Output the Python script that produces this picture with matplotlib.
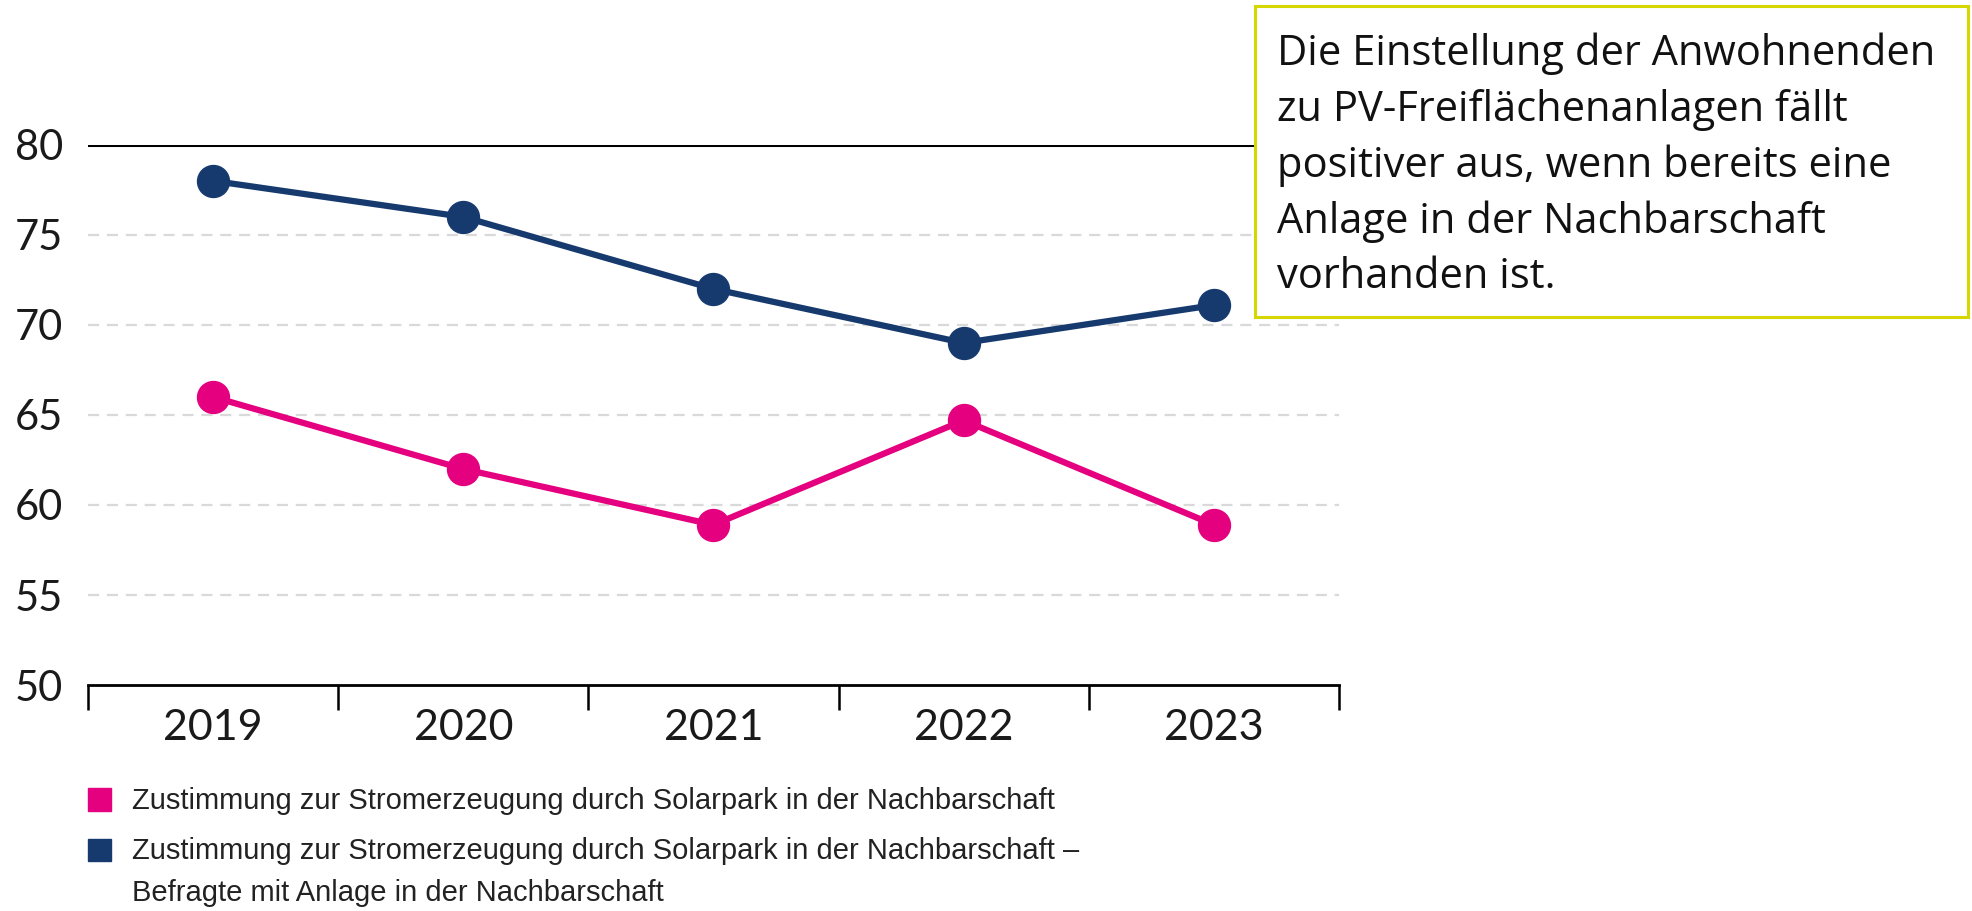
import matplotlib
matplotlib.use("Agg")
import matplotlib.pyplot as plt
from matplotlib.patches import Rectangle

# data
years = ["2019", "2020", "2021", "2022", "2023"]
pink_values = [66, 62, 58.9, 64.7, 58.9]
blue_values = [78, 76, 72, 69, 71.1]
y_ticks = [50, 55, 60, 65, 70, 75, 80]

legend_labels = [
    "Zustimmung zur Stromerzeugung durch Solarpark in der Nachbarschaft",
    "Zustimmung zur Stromerzeugung durch Solarpark in der Nachbarschaft –\nBefragte mit Anlage in der Nachbarschaft",
]
note_lines = [
    "Die Einstellung der Anwohnenden",
    "zu PV-Freiflächenanlagen fällt",
    "positiver aus, wenn bereits eine",
    "Anlage in der Nachbarschaft",
    "vorhanden ist.",
]

PINK = "#e4007e"
BLUE = "#173a6e"
TICK_FONT = ["Lato", "Liberation Sans", "DejaVu Sans"]
LEGEND_FONT = ["Liberation Sans Narrow", "Liberation Sans", "DejaVu Sans"]
NOTE_FONT = ["Open Sans", "Liberation Sans", "DejaVu Sans"]

fig = plt.figure(figsize=(19.72, 9.11), dpi=100)
ax = fig.add_axes([0.0446, 0.248, 0.6344, 0.593])

x = list(range(len(years)))
for vals, col in [(pink_values, PINK), (blue_values, BLUE)]:
    ax.plot(x, vals, color=col, linewidth=4.5, marker="o", markersize=23,
            solid_joinstyle="round", zorder=3)

ax.set_xlim(-0.5, len(years) - 0.5)
ax.set_ylim(50, 80)

# grid
for y in y_ticks[1:-1]:
    ax.axhline(y, color="#d9d9d9", linewidth=1.6, linestyle=(0, (5, 3.5)), zorder=1)
ax.axhline(80, color="black", linewidth=2.2, zorder=2)

for s in ["top", "right", "left"]:
    ax.spines[s].set_visible(False)
ax.spines["bottom"].set_linewidth(2)

ax.set_yticks(y_ticks)
ax.set_yticklabels([str(v) for v in y_ticks], fontsize=30, family=TICK_FONT,
                   color="#1a1a1a")
ax.tick_params(axis="y", length=0, pad=18)

ax.set_xticks([i - 0.5 for i in range(len(years) + 1)])
ax.set_xticklabels([])
ax.tick_params(axis="x", which="major", length=18, width=1.8, direction="out")
ax.set_xticks(x, minor=True)
ax.set_xticklabels(years, minor=True, fontsize=31, family=TICK_FONT,
                   color="#1a1a1a")
ax.tick_params(axis="x", which="minor", length=0, pad=17)

# legend (drawn by hand so the square sits on the first line)
legend_colors = [PINK, BLUE]
legend_y = [0.121, 0.066]
for lab, col, ly in zip(legend_labels, legend_colors, legend_y):
    fig.add_artist(Rectangle((0.0446, ly - 0.0115), 0.0117, 0.025,
                             transform=fig.transFigure, color=col))
    for j, part in enumerate(lab.split("\n")):
        fig.text(0.067, ly - j * 0.046, part, family=LEGEND_FONT, fontsize=21,
                 va="center", color="#222222")

# note box
fig.add_artist(Rectangle((0.6363, 0.652), 0.3615, 0.341, transform=fig.transFigure,
                         facecolor="white", edgecolor="#d6d600", linewidth=2.2,
                         zorder=5))
for i, line in enumerate(note_lines):
    fig.text(0.6475, 0.941 - i * 0.0613, line, family=NOTE_FONT, fontsize=30,
             va="center", ha="left", color="#111111", zorder=6)

plt.savefig("out.png", dpi=100)
